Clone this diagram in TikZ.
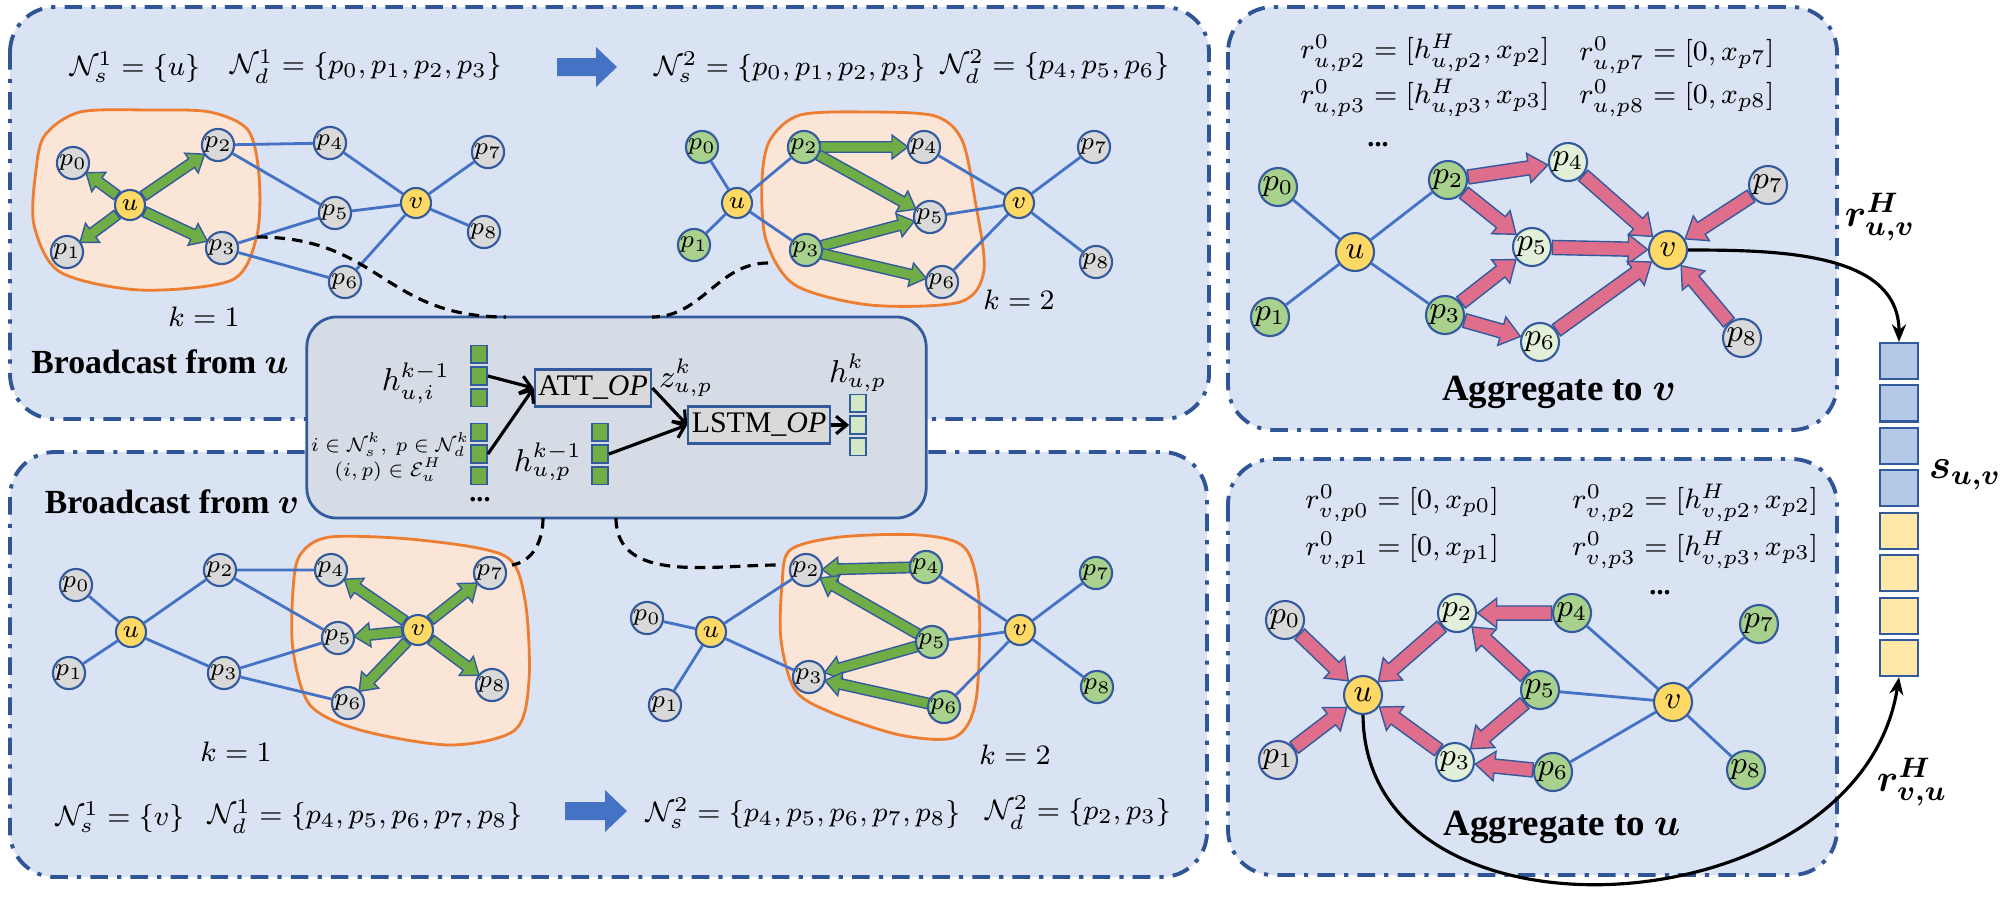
\documentclass[tikz,border=0pt]{standalone}
\usepackage[no-math]{fontspec}
\setmainfont{Liberation Serif}
\usepackage{amsmath,bm,graphicx}
\usetikzlibrary{positioning,arrows.meta,calc}

\definecolor{panelfill}{RGB}{218,227,243}
\definecolor{panelline}{RGB}{47,85,151}
\definecolor{corefill}{RGB}{214,220,229}
\definecolor{nodeline}{RGB}{52,90,158}
\definecolor{nodegray}{RGB}{217,217,217}
\definecolor{nodeyellow}{RGB}{255,217,102}
\definecolor{nodegreen}{RGB}{169,209,142}
\definecolor{nodelight}{RGB}{226,240,217}
\definecolor{edgeblue}{RGB}{68,114,196}
\definecolor{arrowgreen}{RGB}{112,173,71}
\definecolor{arrowpink}{RGB}{222,110,140}
\definecolor{blobfill}{RGB}{251,229,214}
\definecolor{blobline}{RGB}{237,125,49}
\definecolor{cellblue}{RGB}{180,200,231}
\definecolor{cellyellow}{RGB}{255,232,168}
\definecolor{celllight}{RGB}{210,232,196}

% block arrow between two nodes: from, to, fill, gap, half shaft, half head, head length (pt)
\newcommand{\fatarrow}[7]{%
  \pgfpointdiff{\pgfpointanchor{#1}{center}}{\pgfpointanchor{#2}{center}}%
  \pgfgetlastxy{\fatdx}{\fatdy}%
  \pgfmathsetmacro{\fatang}{atan2(\fatdy,\fatdx)}%
  \pgfmathsetmacro{\fatend}{veclen(\fatdx,\fatdy)-#4}%
  \pgfmathsetmacro{\fatneck}{\fatend-#7}%
  \filldraw[fill=#3, draw=nodeline, line width=0.4pt, shift={(#1)}, rotate=\fatang]
    (#4pt,-#5pt) -- (\fatneck pt,-#5pt) -- (\fatneck pt,-#6pt) -- (\fatend pt,0pt)
    -- (\fatneck pt,#6pt) -- (\fatneck pt,#5pt) -- (#4pt,#5pt) -- cycle;}
\newcommand{\bcarrow}[2]{\fatarrow{#1}{#2}{arrowgreen}{4.6}{1.5}{3.4}{4.5}}
\newcommand{\agarrow}[2]{\fatarrow{#1}{#2}{arrowpink}{5.8}{2}{4.2}{5.5}}

\begin{document}
\begin{tikzpicture}[x=0.01cm, y=-0.01cm,
    panel/.style={draw=panelline, fill=panelfill, line width=1.1pt, rounded corners=0.45cm,
        dash pattern=on 5pt off 2.6pt on 1.2pt off 2.6pt},
    blob/.style={draw=blobline, fill=blobfill, line width=0.8pt},
    link/.style={draw=edgeblue, line width=0.8pt},
    bnode/.style={circle, draw=nodeline, line width=0.6pt, minimum size=0.3cm, inner sep=0pt,
        font=\fontsize{7}{7}\selectfont},
    anode/.style={circle, draw=nodeline, line width=0.6pt, minimum size=0.38cm, inner sep=0pt,
        font=\fontsize{9}{9}\selectfont},
    pgry/.style={fill=nodegray}, pyel/.style={fill=nodeyellow},
    pgrn/.style={fill=nodegreen}, plit/.style={fill=nodelight},
    lbl/.style={font=\fontsize{8}{10}\selectfont},
    rlbl/.style={anchor=west, font=\fontsize{8.5}{10}\selectfont},
    heading/.style={font=\fontsize{10.5}{12}\selectfont\bfseries},
    hlbl/.style={font=\fontsize{8.8}{10}\selectfont, inner sep=1pt},
    slbl/.style={font=\fontsize{7}{8}\selectfont, inner sep=0pt},
    tie/.style={line width=0.9pt, dash pattern=on 3pt off 2pt},
    flow/.style={line width=0.9pt, -{Straight Barb[length=3pt,width=5pt]}},
    curvy/.style={line width=0.9pt, -{Stealth[length=5pt,width=4pt]}},
    hcell/.style={draw=nodeline, fill=arrowgreen, minimum width=0.16cm, minimum height=0.175cm,
        inner sep=0pt, line width=0.5pt},
    scell/.style={draw=nodeline, minimum width=0.38cm, minimum height=0.36cm, inner sep=0pt,
        line width=0.6pt},
    opbox/.style={draw=nodeline, fill=nodegray, minimum height=0.37cm, inner sep=1pt,
        line width=0.6pt, font=\fontsize{8.5}{9}\selectfont}
]
\useasboundingbox (0,0) rectangle (2000,908);

% panels
\draw[panel] (10,7) rectangle (1209,419);
\draw[panel] (10,452) rectangle (1207,877);
\draw[panel] (1228,7) rectangle (1837,430);
\draw[panel] (1228,459) rectangle (1837,875);

% neighbourhoods
\draw[blob] plot[smooth cycle] coordinates {(45,135) (80,112) (150,110) (210,112) (248,130)
    (259,175) (257,235) (232,280) (140,290) (60,272) (34,225) (36,170)};
\draw[blob] plot[smooth cycle] coordinates {(770,140) (800,115) (870,112) (935,116) (962,140)
    (975,200) (984,270) (960,302) (870,305) (795,285) (766,240) (762,180)};
\draw[blob] plot[smooth cycle] coordinates {(300,555) (330,537) (420,540) (505,556) (525,600)
    (529,680) (515,730) (450,745) (360,730) (310,705) (293,650) (293,590)};
\draw[blob] plot[smooth cycle] coordinates {(790,550) (840,537) (920,535) (965,548) (979,600)
    (976,700) (955,737) (900,735) (830,712) (795,690) (781,640) (782,585)};

% operator box
\node[draw=nodeline, fill=corefill, rounded corners=0.3cm, line width=0.8pt,
    minimum width=6.19cm, minimum height=2.01cm] (core) at (616.5,417.5) {};

% broadcast from u, k=1
\node[bnode, pgry] (A-p0) at (73,163) {$p_0$};
\node[bnode, pyel] (A-u) at (130,205) {$u$};
\node[bnode, pgry] (A-p1) at (67,252) {$p_1$};
\node[bnode, pgry] (A-p2) at (218,145) {$p_2$};
\node[bnode, pgry] (A-p3) at (222,248) {$p_3$};
\node[bnode, pgry] (A-p4) at (330,143) {$p_4$};
\node[bnode, pgry] (A-p5) at (335,213) {$p_5$};
\node[bnode, pgry] (A-p6) at (345,282) {$p_6$};
\node[bnode, pyel] (A-v) at (416,203) {$v$};
\node[bnode, pgry] (A-p7) at (488,152) {$p_7$};
\node[bnode, pgry] (A-p8) at (484,232) {$p_8$};
\draw[link] (A-p2) -- (A-p4) (A-p2) -- (A-p5) (A-p3) -- (A-p5) (A-p3) -- (A-p6)
    (A-p4) -- (A-v) (A-p5) -- (A-v) (A-p6) -- (A-v) (A-v) -- (A-p7) (A-v) -- (A-p8);
\bcarrow{A-u}{A-p0} \bcarrow{A-u}{A-p1} \bcarrow{A-u}{A-p2} \bcarrow{A-u}{A-p3}

% broadcast from u, k=2
\node[bnode, pgrn] (B-p0) at (702,147) {$p_0$};
\node[bnode, pyel] (B-u) at (737,203) {$u$};
\node[bnode, pgrn] (B-p1) at (694,245) {$p_1$};
\node[bnode, pgrn] (B-p2) at (804,147) {$p_2$};
\node[bnode, pgrn] (B-p3) at (806,250) {$p_3$};
\node[bnode, pgry] (B-p4) at (924,147) {$p_4$};
\node[bnode, pgry] (B-p5) at (930,217) {$p_5$};
\node[bnode, pgry] (B-p6) at (942,282) {$p_6$};
\node[bnode, pyel] (B-v) at (1019,203) {$v$};
\node[bnode, pgry] (B-p7) at (1094,147) {$p_7$};
\node[bnode, pgry] (B-p8) at (1096,262) {$p_8$};
\draw[link] (B-p0) -- (B-u) (B-p1) -- (B-u) (B-u) -- (B-p2) (B-u) -- (B-p3)
    (B-p4) -- (B-v) (B-p5) -- (B-v) (B-p6) -- (B-v) (B-v) -- (B-p7) (B-v) -- (B-p8);
\bcarrow{B-p2}{B-p4} \bcarrow{B-p2}{B-p5} \bcarrow{B-p3}{B-p5} \bcarrow{B-p3}{B-p6}

% broadcast from v, k=1
\node[bnode, pgry] (C-p0) at (76,585) {$p_0$};
\node[bnode, pyel] (C-u) at (131,632) {$u$};
\node[bnode, pgry] (C-p1) at (69,673) {$p_1$};
\node[bnode, pgry] (C-p2) at (220,570) {$p_2$};
\node[bnode, pgry] (C-p3) at (224,673) {$p_3$};
\node[bnode, pgry] (C-p4) at (331,570) {$p_4$};
\node[bnode, pgry] (C-p5) at (338,638) {$p_5$};
\node[bnode, pgry] (C-p6) at (348,703) {$p_6$};
\node[bnode, pyel] (C-v) at (418,630) {$v$};
\node[bnode, pgry] (C-p7) at (490,573) {$p_7$};
\node[bnode, pgry] (C-p8) at (492,685) {$p_8$};
\draw[link] (C-p0) -- (C-u) (C-p1) -- (C-u) (C-u) -- (C-p2) (C-u) -- (C-p3)
    (C-p2) -- (C-p4) (C-p2) -- (C-p5) (C-p3) -- (C-p5) (C-p3) -- (C-p6);
\bcarrow{C-v}{C-p4} \bcarrow{C-v}{C-p5} \bcarrow{C-v}{C-p6} \bcarrow{C-v}{C-p7} \bcarrow{C-v}{C-p8}

% broadcast from v, k=2
\node[bnode, pgry] (D-p0) at (647,618) {$p_0$};
\node[bnode, pyel] (D-u) at (711,632) {$u$};
\node[bnode, pgry] (D-p1) at (665,705) {$p_1$};
\node[bnode, pgry] (D-p2) at (806,570) {$p_2$};
\node[bnode, pgry] (D-p3) at (809,677) {$p_3$};
\node[bnode, pgrn] (D-p4) at (926,567) {$p_4$};
\node[bnode, pgrn] (D-p5) at (932,642) {$p_5$};
\node[bnode, pgrn] (D-p6) at (944,707) {$p_6$};
\node[bnode, pyel] (D-v) at (1020,630) {$v$};
\node[bnode, pgrn] (D-p7) at (1096,573) {$p_7$};
\node[bnode, pgrn] (D-p8) at (1097,687) {$p_8$};
\draw[link] (D-p0) -- (D-u) (D-p1) -- (D-u) (D-u) -- (D-p2) (D-u) -- (D-p3)
    (D-p4) -- (D-v) (D-p5) -- (D-v) (D-p6) -- (D-v) (D-v) -- (D-p7) (D-v) -- (D-p8);
\bcarrow{D-p4}{D-p2} \bcarrow{D-p5}{D-p2} \bcarrow{D-p5}{D-p3} \bcarrow{D-p6}{D-p3}

% aggregate to v
\node[anode, pgrn] (E-p0) at (1278,187) {$p_0$};
\node[anode, pyel] (E-u) at (1355,252) {$u$};
\node[anode, pgrn] (E-p1) at (1270,317) {$p_1$};
\node[anode, pgrn] (E-p2) at (1448,180) {$p_2$};
\node[anode, pgrn] (E-p3) at (1445,315) {$p_3$};
\node[anode, plit] (E-p4) at (1568,162) {$p_4$};
\node[anode, plit] (E-p5) at (1532,247) {$p_5$};
\node[anode, plit] (E-p6) at (1540,342) {$p_6$};
\node[anode, pyel] (E-v) at (1668,250) {$v$};
\node[anode, pgry] (E-p7) at (1768,185) {$p_7$};
\node[anode, pgry] (E-p8) at (1742,338) {$p_8$};
\draw[link] (E-p0) -- (E-u) (E-p1) -- (E-u) (E-u) -- (E-p2) (E-u) -- (E-p3);
\agarrow{E-p2}{E-p4} \agarrow{E-p2}{E-p5} \agarrow{E-p3}{E-p5} \agarrow{E-p3}{E-p6}
\agarrow{E-p4}{E-v} \agarrow{E-p5}{E-v} \agarrow{E-p6}{E-v} \agarrow{E-p7}{E-v} \agarrow{E-p8}{E-v}

% aggregate to u
\node[anode, pgry] (F-p0) at (1285,620) {$p_0$};
\node[anode, pyel] (F-u) at (1363,695) {$u$};
\node[anode, pgry] (F-p1) at (1278,760) {$p_1$};
\node[anode, plit] (F-p2) at (1457,613) {$p_2$};
\node[anode, plit] (F-p3) at (1455,762) {$p_3$};
\node[anode, pgrn] (F-p4) at (1572,613) {$p_4$};
\node[anode, pgrn] (F-p5) at (1540,690) {$p_5$};
\node[anode, pgrn] (F-p6) at (1553,772) {$p_6$};
\node[anode, pyel] (F-v) at (1673,702) {$v$};
\node[anode, pgrn] (F-p7) at (1759,624) {$p_7$};
\node[anode, pgrn] (F-p8) at (1746,770) {$p_8$};
\draw[link] (F-p4) -- (F-v) (F-p5) -- (F-v) (F-p6) -- (F-v) (F-v) -- (F-p7) (F-v) -- (F-p8);
\agarrow{F-p4}{F-p2} \agarrow{F-p5}{F-p2} \agarrow{F-p5}{F-p3} \agarrow{F-p6}{F-p3}
\agarrow{F-p2}{F-u} \agarrow{F-p3}{F-u} \agarrow{F-p0}{F-u} \agarrow{F-p1}{F-u}

% set labels
\node[lbl] (A-src) at (135,67) {$\mathcal{N}_s^1=\{u\}$};
\node[lbl] (A-dst) at (366,67) {$\mathcal{N}_d^1=\{p_0,p_1,p_2,p_3\}$};
\fill[edgeblue] (557,58) -- (596,58) -- (596,47) -- (617,67) -- (596,87) -- (596,76) -- (557,76) -- cycle;
\node[lbl] (B-src) at (790,67) {$\mathcal{N}_s^2=\{p_0,p_1,p_2,p_3\}$};
\node[lbl] (B-dst) at (1055,67) {$\mathcal{N}_d^2=\{p_4,p_5,p_6\}$};
\node[lbl] (A-k) at (204,317) {$k=1$};
\node[lbl] (B-k) at (1019,300) {$k=2$};
\node[heading, font=\fontsize{9.6}{12}\selectfont\bfseries, inner sep=1pt] (A-name) at (160,362) {Broadcast from $\bm{u}$};

\node[heading, font=\fontsize{9.6}{12}\selectfont\bfseries, inner sep=1pt] (C-name) at (172,502) {Broadcast from $\bm{v}$};
\node[lbl] (C-k) at (236,752) {$k=1$};
\node[lbl] (D-k) at (1015,755) {$k=2$};
\node[lbl] (C-src) at (120,817) {$\mathcal{N}_s^1=\{v\}$};
\node[lbl] (C-dst) at (365,817) {$\mathcal{N}_d^1=\{p_4,p_5,p_6,p_7,p_8\}$};
\fill[edgeblue] (565,802) -- (605,802) -- (605,790) -- (627,811) -- (605,832) -- (605,820) -- (565,820) -- cycle;
\node[lbl] (D-src) at (803,813) {$\mathcal{N}_s^2=\{p_4,p_5,p_6,p_7,p_8\}$};
\node[lbl] (D-dst) at (1078,813) {$\mathcal{N}_d^2=\{p_2,p_3\}$};

\node[rlbl] (E-r2) at (1288,53) {$r_{u,p2}^0=[h_{u,p2}^H,x_{p2}]$};
\node[rlbl] (E-r3) at (1288,98) {$r_{u,p3}^0=[h_{u,p3}^H,x_{p3}]$};
\node[rlbl] (E-r7) at (1567,55) {$r_{u,p7}^0=[0,x_{p7}]$};
\node[rlbl] (E-r8) at (1567,98) {$r_{u,p8}^0=[0,x_{p8}]$};
\node[lbl] (E-dots) at (1378,145) {\textbf{...}};
\node[heading] (E-name) at (1559,392) {Aggregate to $\bm{v}$};

\node[rlbl] (F-r0) at (1293,503) {$r_{v,p0}^0=[0,x_{p0}]$};
\node[rlbl] (F-r1) at (1293,550) {$r_{v,p1}^0=[0,x_{p1}]$};
\node[rlbl] (F-r2) at (1560,503) {$r_{v,p2}^0=[h_{v,p2}^H,x_{p2}]$};
\node[rlbl] (F-r3) at (1560,550) {$r_{v,p3}^0=[h_{v,p3}^H,x_{p3}]$};
\node[lbl] (F-dots) at (1660,593) {\textbf{...}};
\node[heading] (F-name) at (1562,827) {Aggregate to $\bm{u}$};

% operator box contents
\node[hcell] (h1b) at (479,376) {};
\node[hcell, above=0.025cm of h1b] (h1a) {};
\node[hcell, below=0.025cm of h1b] (h1c) {};
\node[hcell] (h2b) at (479,454) {};
\node[hcell, above=0.025cm of h2b] (h2a) {};
\node[hcell, below=0.025cm of h2b] (h2c) {};
\node[hcell] (h3b) at (600,454) {};
\node[hcell, above=0.025cm of h3b] (h3a) {};
\node[hcell, below=0.025cm of h3b] (h3c) {};
\node[hcell, fill=celllight] (hob) at (858,425) {};
\node[hcell, fill=celllight, above=0.025cm of hob] (hoa) {};
\node[hcell, fill=celllight, below=0.025cm of hob] (hoc) {};
\node[opbox, minimum width=1.03cm] (att) at (593,388) {ATT\_\textit{OP}};
\node[opbox, minimum width=1.28cm] (lstm) at (759,425) {LSTM\_\textit{OP}};
\node[hlbl] (hui) at (416,383) {$h_{u,i}^{k-1}$};
\node[hlbl] (hup) at (548,462) {$h_{u,p}^{k-1}$};
\node[hlbl] (zup) at (686,378) {$z_{u,p}^{k}$};
\node[hlbl] (hkup) at (858,373) {$h_{u,p}^{k}$};
\node[slbl] (iset) at (390,445) {\scalebox{0.8}{$i\in\mathcal{N}_s^k,\ p\in\mathcal{N}_d^k$}};
\node[slbl] (eset) at (388,470) {\scalebox{0.8}{$(i,p)\in\mathcal{E}_u^H$}};
\node[lbl] (hdots) at (480,500) {\textbf{...}};
\draw[flow] (h1b.east) -- (att.west);
\draw[flow] (h2b.east) -- (att.west);
\draw[flow] (att.east) -- (lstm.west);
\draw[flow] (h3b.east) -- (lstm.west);
\draw[flow] (lstm.east) -- (hob.west);

% dashed links to the box
\coordinate (tieA) at (257,237);
\coordinate (tieB) at (768,263);
\coordinate (tieC) at (512,565);
\coordinate (tieD) at (778,565);
\coordinate (coreA) at (506,317);
\coordinate (coreB) at (652,317);
\coordinate (coreC) at (543,518);
\coordinate (coreD) at (616,518);
\draw[tie] (tieA) to[out=0, in=180, looseness=1.2] (coreA);
\draw[tie] (tieB) to[out=180, in=0] (coreB);
\draw[tie] (coreC) to[out=-90, in=10] (tieC);
\draw[tie] (coreD) to[out=-90, in=180] (tieD);

% pair vector
\node[scell, fill=cellblue] (s1) at (1899,361) {};
\node[scell, fill=cellblue, below=0.043cm of s1] (s2) {};
\node[scell, fill=cellblue, below=0.043cm of s2] (s3) {};
\node[scell, fill=cellblue, below=0.043cm of s3] (s4) {};
\node[scell, fill=cellyellow, below=0.043cm of s4] (s5) {};
\node[scell, fill=cellyellow, below=0.043cm of s5] (s6) {};
\node[scell, fill=cellyellow, below=0.043cm of s6] (s7) {};
\node[scell, fill=cellyellow, below=0.043cm of s7] (s8) {};
\node[font=\fontsize{12}{13}\selectfont] (suv) at (1965,475) {$\bm{s_{u,v}}$};
\node[font=\fontsize{11}{12}\selectfont] (ruv) at (1880,217) {$\bm{r_{u,v}^H}$};
\node[font=\fontsize{11}{12}\selectfont] (rvu) at (1912,782) {$\bm{r_{v,u}^H}$};
\draw[curvy] (E-v.east) to[out=0, in=90] (s1.north);
\draw[curvy] (F-u.south) .. controls (1365,960) and (1860,930) .. (s8.south);

\end{tikzpicture}
\end{document}
